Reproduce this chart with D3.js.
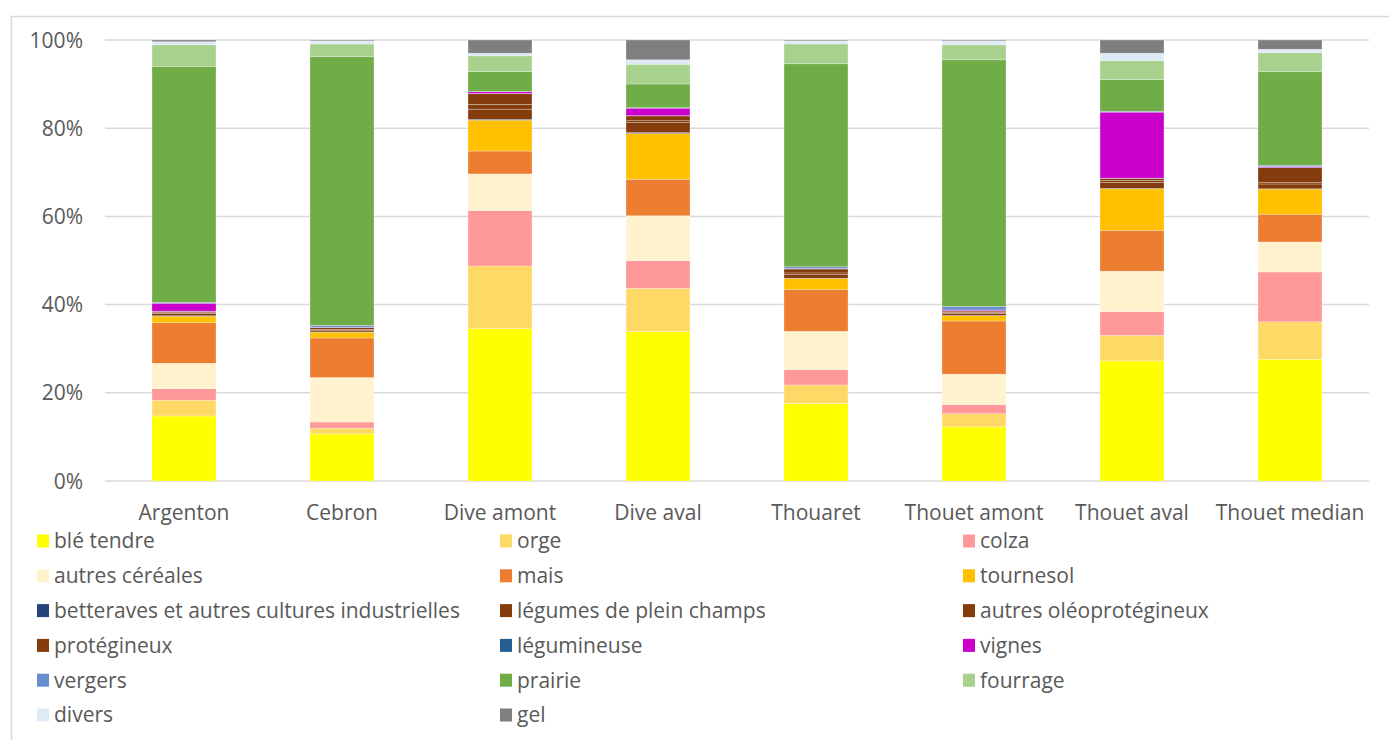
<!DOCTYPE html>
<html>
<head>
<meta charset="utf-8">
<script src="https://cdn.jsdelivr.net/npm/d3@7"></script>
<style>
  html, body { margin: 0; padding: 0; background: #fff; }
  svg { display: block; }
  text { font-family: "Open Sans", "Noto Sans", sans-serif; fill: #595959; }
</style>
</head>
<body>
<svg id="chart" width="1389" height="740"></svg>
<script>
// ---------- DATA ----------
const categories = ["Argenton", "Cebron", "Dive amont", "Dive aval", "Thouaret", "Thouet amont", "Thouet aval", "Thouet median"];
const seriesNames = ["blé tendre", "orge", "colza", "autres céréales", "mais", "tournesol",
  "betteraves et autres cultures industrielles", "légumes de plein champs", "autres oléoprotégineux",
  "protégineux", "légumineuse", "vignes", "vergers", "prairie", "fourrage", "divers", "gel"];
const seriesColors = ["#FFFF00", "#FFD966", "#FF9999", "#FFF2CC", "#ED7D31", "#FFC000",
  "#264478", "#843C0C", "#843C0C", "#843C0C", "#255E91", "#CC00CC", "#698ED0", "#70AD47", "#A9D18E", "#DEEBF7", "#7F7F7F"];

const bleTendre      = [14.8, 10.7, 34.6, 34.0, 17.6, 12.3, 27.3, 27.6];
const orge           = [3.6, 1.3, 14.2, 9.8, 4.2, 3.0, 5.8, 8.5];
const colza          = [2.6, 1.4, 12.6, 6.3, 3.5, 2.1, 5.4, 11.3];
const autresCereales = [5.8, 10.1, 8.3, 10.2, 8.7, 6.9, 9.2, 6.8];
const mais           = [9.2, 9.0, 5.2, 8.3, 9.5, 12.1, 9.3, 6.3];
const tournesol      = [1.5, 1.3, 7.0, 10.4, 2.5, 1.2, 9.4, 5.7];
const betteraves     = [0.1, 0.05, 0.2, 0.2, 0.05, 0.05, 0.1, 0.05];
const legumes        = [0.5, 0.4, 2.3, 2.3, 0.8, 0.5, 1.4, 1.1];
const autresOleo     = [0.2, 0.2, 1.1, 0.4, 0.4, 0.2, 0.4, 0.3];
const proteagineux   = [0.3, 0.4, 2.4, 1.1, 0.9, 0.3, 0.5, 3.4];
const legumineuse    = [0.05, 0.05, 0.05, 0.05, 0.05, 0.05, 0.05, 0.05];
const vignes         = [1.8, 0.05, 0.4, 1.7, 0.05, 0.2, 15.0, 0.2];
const vergers        = [0.2, 0.4, 0.05, 0.1, 0.4, 0.8, 0.2, 0.3];
const prairie        = [53.7, 61.0, 4.5, 5.4, 46.1, 56.1, 7.2, 21.2];
const fourrage       = [4.9, 2.9, 3.6, 4.5, 4.5, 3.4, 4.3, 4.3];
const divers         = [0.7, 0.7, 0.6, 1.0, 0.7, 0.9, 1.7, 0.8];
const gel            = [0.4, 0.2, 3.0, 4.5, 0.2, 0.2, 3.0, 2.1];

const yTicks = [0, 0.2, 0.4, 0.6, 0.8, 1.0];
const yTickLabels = ["0%", "20%", "40%", "60%", "80%", "100%"];

const seriesValues = [bleTendre, orge, colza, autresCereales, mais, tournesol, betteraves, legumes,
  autresOleo, proteagineux, legumineuse, vignes, vergers, prairie, fourrage, divers, gel];

// ---------- BUILD TABLE ----------
const table = categories.map((c, i) => {
  const row = { cat: c };
  seriesNames.forEach((s, j) => { row[s] = seriesValues[j][i]; });
  return row;
});

const svg = d3.select("#chart");
const FS = "21px";

// frame
svg.append("rect")
  .attr("x", 11.5).attr("y", 16.5).attr("width", 1400).attr("height", 800)
  .attr("fill", "none").attr("stroke", "#d9d9d9").attr("stroke-width", 1.5);

const plotLeft = 105, plotRight = 1369, plotTop = 40, plotBottom = 481;

const x = d3.scaleBand().domain(categories).range([plotLeft, plotRight]).paddingInner(0.595).paddingOuter(0.2975);
const y = d3.scaleLinear().domain([0, 1]).range([plotBottom, plotTop]);

// gridlines
svg.append("g").selectAll("line").data(yTicks).join("line")
  .attr("x1", plotLeft).attr("x2", plotRight)
  .attr("y1", d => y(d)).attr("y2", d => y(d))
  .attr("stroke", "#d9d9d9").attr("stroke-width", 1.5);

// y axis labels
const yAxis = d3.axisLeft(y).tickValues(yTicks).tickFormat((d, i) => yTickLabels[i]).tickSize(0).tickPadding(0);
const gy = svg.append("g").attr("transform", `translate(83,0)`).call(yAxis);
gy.select(".domain").remove();
gy.selectAll("text").style("font-size", FS).attr("fill", "#595959")
  .style("font-family", "'Open Sans', sans-serif").attr("dy", "0.34em");

// stack
const stack = d3.stack().keys(seriesNames).offset(d3.stackOffsetExpand);
const stacked = stack(table);

svg.append("g").selectAll("g").data(stacked).join("g")
  .attr("fill", (d, i) => seriesColors[i])
  .selectAll("rect").data(d => d).join("rect")
  .attr("x", d => x(d.data.cat))
  .attr("width", x.bandwidth())
  .attr("y", d => y(d[1]))
  .attr("height", d => Math.max(0, y(d[0]) - y(d[1])))
  .attr("stroke", "#ffffff").attr("stroke-width", 0.6).attr("stroke-opacity", 0.45);

// x axis labels
const xAxis = d3.axisBottom(x).tickSize(0).tickPadding(0);
const gx = svg.append("g").attr("transform", `translate(0,${plotBottom})`).call(xAxis);
gx.select(".domain").remove();
gx.selectAll("text").style("font-size", FS).attr("fill", "#595959")
  .style("font-family", "'Open Sans', sans-serif").attr("y", 39).attr("dy", "0");

// legend
const colX = [37, 500, 963];
const rowY0 = 541, rowStep = 34.8;
const leg = svg.append("g").selectAll("g").data(seriesNames).join("g")
  .attr("transform", (d, i) => `translate(${colX[i % 3]},${rowY0 + Math.floor(i / 3) * rowStep})`);
leg.append("rect").attr("x", 0).attr("y", -6.5).attr("width", 12).attr("height", 13)
  .attr("fill", (d, i) => seriesColors[i]);
leg.append("text").attr("x", 17).attr("y", 0).attr("dy", "0.35em")
  .style("font-size", FS).text(d => d);
</script>
</body>
</html>
